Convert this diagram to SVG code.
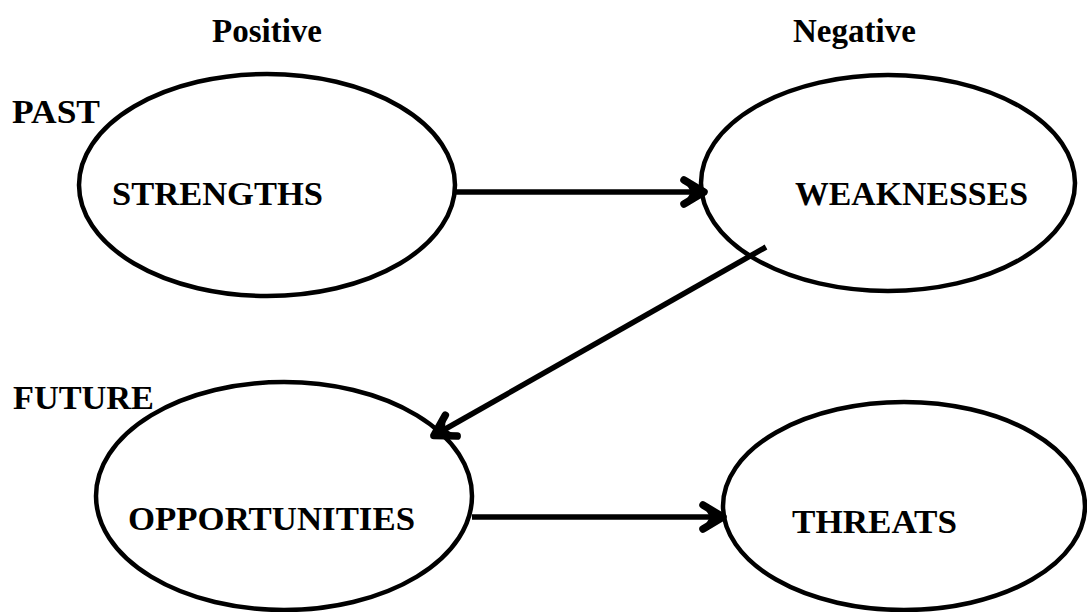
<svg xmlns="http://www.w3.org/2000/svg" width="1087" height="612" viewBox="0 0 1087 612">
  <style>
    .node { fill: none; stroke: #000; stroke-width: 4.5; }
    .lbl { font-family: "Liberation Serif", "Times New Roman", serif; font-weight: bold; font-size: 34px; fill: #000; }
    .hdr { font-family: "Liberation Serif", "Times New Roman", serif; font-weight: bold; font-size: 33px; fill: #000; }
    .conn { stroke: #000; stroke-width: 5.5; fill: none; }
  </style>
  <defs>
    <marker id="arrow" markerUnits="userSpaceOnUse" viewBox="-32 -20 38 40" refX="0" refY="0" markerWidth="38" markerHeight="40" orient="auto">
      <path d="M-21,-12 L-1,0 L-21,12" fill="none" stroke="#000" stroke-width="7.5" stroke-linecap="round" stroke-linejoin="round"/>
      <path d="M-2,0 L-20,-10 L-14,0 L-20,10 Z" fill="#000"/>
    </marker>
  </defs>
  <rect width="1087" height="612" fill="#fff"/>

  <g id="headers">
    <text class="hdr" x="212" y="42">Positive</text>
    <text class="hdr" x="793" y="42">Negative</text>
    <text class="lbl" x="12" y="123" textLength="88" lengthAdjust="spacingAndGlyphs">PAST</text>
    <text class="lbl" x="13" y="409" textLength="141" lengthAdjust="spacingAndGlyphs">FUTURE</text>
  </g>

  <g id="strengths">
    <ellipse class="node" cx="267" cy="185" rx="188" ry="111"/>
    <text class="lbl" x="112" y="205" textLength="211" lengthAdjust="spacingAndGlyphs">STRENGTHS</text>
  </g>
  <g id="weaknesses">
    <ellipse class="node" cx="888" cy="183" rx="187" ry="108"/>
    <text class="lbl" x="795" y="205" textLength="233" lengthAdjust="spacingAndGlyphs">WEAKNESSES</text>
  </g>
  <g id="opportunities">
    <ellipse class="node" cx="284" cy="496" rx="188" ry="114"/>
    <text class="lbl" x="128" y="530" textLength="287" lengthAdjust="spacingAndGlyphs">OPPORTUNITIES</text>
  </g>
  <g id="threats">
    <ellipse class="node" cx="904" cy="506" rx="181" ry="104"/>
    <text class="lbl" x="792" y="533" textLength="165" lengthAdjust="spacingAndGlyphs">THREATS</text>
  </g>

  <g id="connectors">
    <line class="conn" x1="455" y1="192" x2="705" y2="192" marker-end="url(#arrow)"/>
    <line class="conn" x1="766" y1="247" x2="433" y2="436" marker-end="url(#arrow)"/>
    <line class="conn" x1="472" y1="517" x2="724" y2="517" marker-end="url(#arrow)"/>
  </g>
</svg>
